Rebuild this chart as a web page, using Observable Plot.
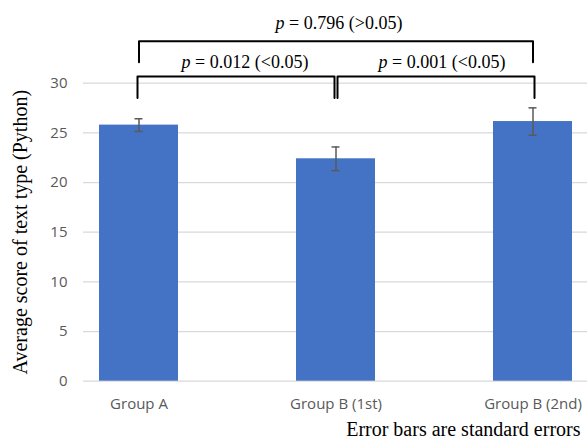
<!DOCTYPE html>
<html>
<head>
<meta charset="utf-8">
<script src="https://cdn.jsdelivr.net/npm/d3@7"></script>
<script src="https://cdn.jsdelivr.net/npm/@observablehq/plot@0.6"></script>
<style>
  html, body { margin: 0; padding: 0; background: #fff; }
  #chart svg { display: block; }
</style>
</head>
<body>
<div id="chart"></div>
<script>
// ---- data ----
const groups = ["Group A", "Group B (1st)", "Group B (2nd)"];
const means = [25.78, 22.39, 26.14];
const stdErrors = [0.64, 1.19, 1.38];
const yTicks = [0, 5, 10, 15, 20, 25, 30];

// significance comparisons
const compFrom = ["Group A", "Group B (1st)", "Group A"];
const compTo = ["Group B (1st)", "Group B (2nd)", "Group B (2nd)"];
const compLabels = ["p = 0.012 (<0.05)", "p = 0.001 (<0.05)", "p = 0.796 (>0.05)"];
const bracketTop = [30.67, 30.67, 34.23];     // bracket bar level (score units)
const bracketLeg = [28.51, 28.51, 32.11];     // bracket leg end level
const labelLevel = [31.55, 31.55, 35.48];     // label baseline level

const yTitle = "Average score of text type (Python)";
const caption = "Error bars are standard errors";

// ---- tables ----
const data = groups.map((g, i) => ({group: g, mean: means[i], se: stdErrors[i]}));
const bracketPts = [];
compFrom.forEach((f, i) => {
  bracketPts.push({id: i, g: f, v: bracketLeg[i]});
  bracketPts.push({id: i, g: f, v: bracketTop[i]});
  bracketPts.push({id: i, g: compTo[i], v: bracketTop[i]});
  bracketPts.push({id: i, g: compTo[i], v: bracketLeg[i]});
});
const labels = compLabels.map((t, i) => ({text: t, v: labelLevel[i], id: i}));

const W = 587, H = 441;
const serif = "'Liberation Serif', 'Times New Roman', serif";
const sans = "'Open Sans', 'Noto Sans', sans-serif";
const labelDx = [-91, 106, 3];
const bracketDx = [-1.5, 1.5, 0];

const chart = Plot.plot({
  width: W,
  height: H,
  marginLeft: 83,
  marginRight: 0,
  marginTop: 82.7,
  marginBottom: 60.3,
  style: {fontFamily: sans, background: "#fff"},
  x: {type: "band", domain: groups, range: [39.25, 631.75], paddingInner: 0.6, paddingOuter: 0.3, axis: null},
  y: {domain: [0, 30], range: [380.7, 82.7], axis: null},
  marks: [
    Plot.gridY(yTicks, {stroke: "#d9d9d9", strokeOpacity: 1, strokeWidth: 1.3}),
    Plot.axisY(yTicks, {tickSize: 0, tickPadding: 16, fontSize: 15, fill: "#595959", label: null, tickFormat: d => String(d)}),
    Plot.axisX({tickSize: 0, tickPadding: 17, fontSize: 15, fill: "#595959", label: null}),
    Plot.barY(data, {x: "group", y: "mean", fill: "#4472C4"}),
    Plot.ruleX(data, {x: "group", y1: d => d.mean - d.se, y2: d => d.mean + d.se, stroke: "#5a5a5a", strokeWidth: 1.5}),
    Plot.tickY(data, {x: "group", y: d => d.mean + d.se, stroke: "#5a5a5a", strokeWidth: 1.5, insetLeft: 35.5, insetRight: 35.5}),
    Plot.tickY(data, {x: "group", y: d => d.mean - d.se, stroke: "#5a5a5a", strokeWidth: 1.5, insetLeft: 35.5, insetRight: 35.5}),
    ...compFrom.map((_, i) => Plot.line(bracketPts.filter(p => p.id === i), {x: "g", y: "v", stroke: "#000", strokeWidth: 2, dx: bracketDx[i], curve: "linear"})),
    ...labels.map((l, i) => Plot.text([l], {x: () => "Group B (1st)", y: "v", text: "text", dx: labelDx[i], lineAnchor: "bottom", fontSize: 18, fontFamily: serif, fill: "#000"})),
    Plot.text([yTitle], {frameAnchor: "left", text: d => d, rotate: -90, dx: -57, lineAnchor: "bottom", textAnchor: "middle", fontSize: 20, fontFamily: serif, fill: "#000"}),
    Plot.text([caption], {frameAnchor: "bottom-right", text: d => d, textAnchor: "end", lineAnchor: "bottom", dx: -7, dy: 55, fontSize: 20, fontFamily: serif, fill: "#000"})
  ]
});

// italic "p" in the p-value labels
d3.select(chart).selectAll("text").each(function () {
  const t = this.textContent;
  if (t.startsWith("p = ")) {
    this.textContent = "";
    const sp = document.createElementNS("http://www.w3.org/2000/svg", "tspan");
    sp.setAttribute("font-style", "italic");
    sp.textContent = "p";
    this.appendChild(sp);
    this.appendChild(document.createTextNode(t.slice(1)));
  }
});

document.getElementById("chart").appendChild(chart);
</script>
</body>
</html>
